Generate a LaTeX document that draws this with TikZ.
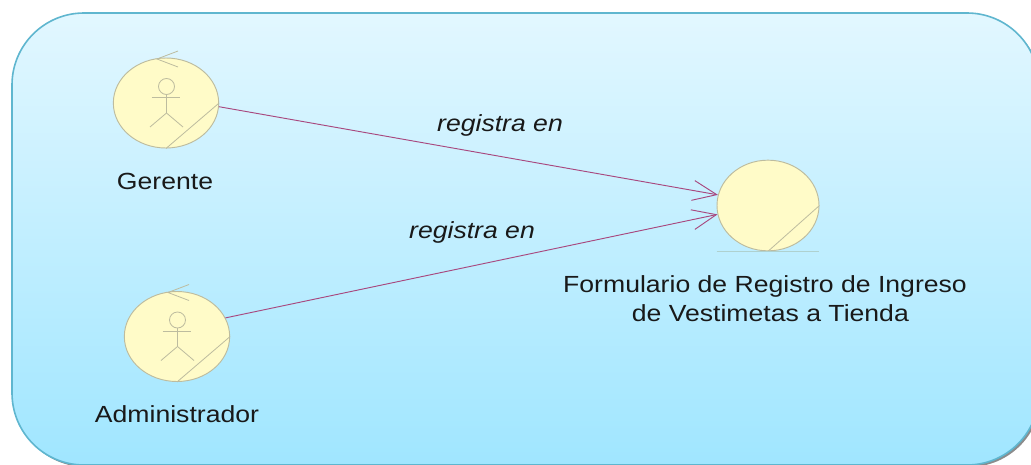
\documentclass[tikz,border=0pt]{standalone}
\usepackage{fontspec}
\setmainfont[FakeStretch=1.14]{Liberation Sans}
\usetikzlibrary{arrows.meta,shapes.geometric}
\definecolor{framec}{HTML}{5FB6CF}
\definecolor{skytop}{HTML}{E2F7FF}
\definecolor{skybottom}{HTML}{A0E6FF}
\definecolor{robustfill}{HTML}{FFFBC8}
\definecolor{robustline}{HTML}{BDBC9F}
\definecolor{linkc}{HTML}{A8487E}
\tikzset{
	robust/.style={ellipse, draw=robustline, fill=robustfill, line width=0.7pt, inner sep=0pt, minimum width=79pt, minimum height=67.5pt},
	sketch/.style={draw=robustline, line width=0.6pt},
	link/.style={draw=linkc, line width=0.7pt, -{Straight Barb[length=18pt, width=15pt]}},
	caption/.style={font=\fontsize{17.5}{21.75}\selectfont, text=black!90, inner sep=0pt},
	verb/.style={caption, font=\fontsize{17.5}{21.75}\selectfont\itshape}
}
\begin{document}
\begin{tikzpicture}[x=0.75pt, y=-0.75pt]
	\useasboundingbox (0,0) rectangle (1031,464);
	
	% Frame
	\fill[black!45, rounded corners=54pt] (14,15) rectangle (1041,467);
	\draw[draw=framec, line width=1.2pt, rounded corners=54pt, top color=skytop, bottom color=skybottom] (12,13) rectangle (1039,465);
	
	% Objects
	\node[robust] (gerente) at (166,103) {};
	\node[robust] (admin) at (177,336.5) {};
	\node[robust, minimum width=76.5pt, minimum height=68pt] (form) at (768,205.5) {};
	
	% Draw actor figures
	\foreach \p in {gerente,admin} {
		\begin{scope}[shift={(\p.center)}]
			\draw[sketch] (0.5,-16.5) circle (8);
			\draw[sketch] (0.5,-8.5) -- (0.5,10);
			\draw[sketch] (-14.5,-5.5) -- (14,-5.5);
			\draw[sketch] (-16,24) -- (0.5,10) -- (17,24);
			\draw[sketch] (12,-52) -- (-9,-44) -- (12,-36);
		\end{scope}
	}
	
	% Draw marks on objects
	\foreach \p in {gerente,admin,form}
	\draw[sketch] (\p.east) -- (\p.south);
	\draw[draw=robustline!50!skybottom, line width=1pt] (form.west |- form.south) -- (form.east |- form.south);
	
	% Draw links
	\draw[link] (gerente.-4) -- (form.168);
	\draw[link] (admin.21) -- (form.190);
	
	% Labels
	\node[caption] (gerentetxt) at (165,181) {Gerente};
	\node[caption] (admintxt) at (177,414) {Administrador};
	\node[caption, align=center] (formtxt) at (765,299) {Formulario de Registro de Ingreso\\\hspace*{8pt}de Vestimetas a Tienda};
	\node[verb] (verbone) at (500,125) {registra en};
	\node[verb] (verbtwo) at (472,232) {registra en};
\end{tikzpicture}
\end{document}
